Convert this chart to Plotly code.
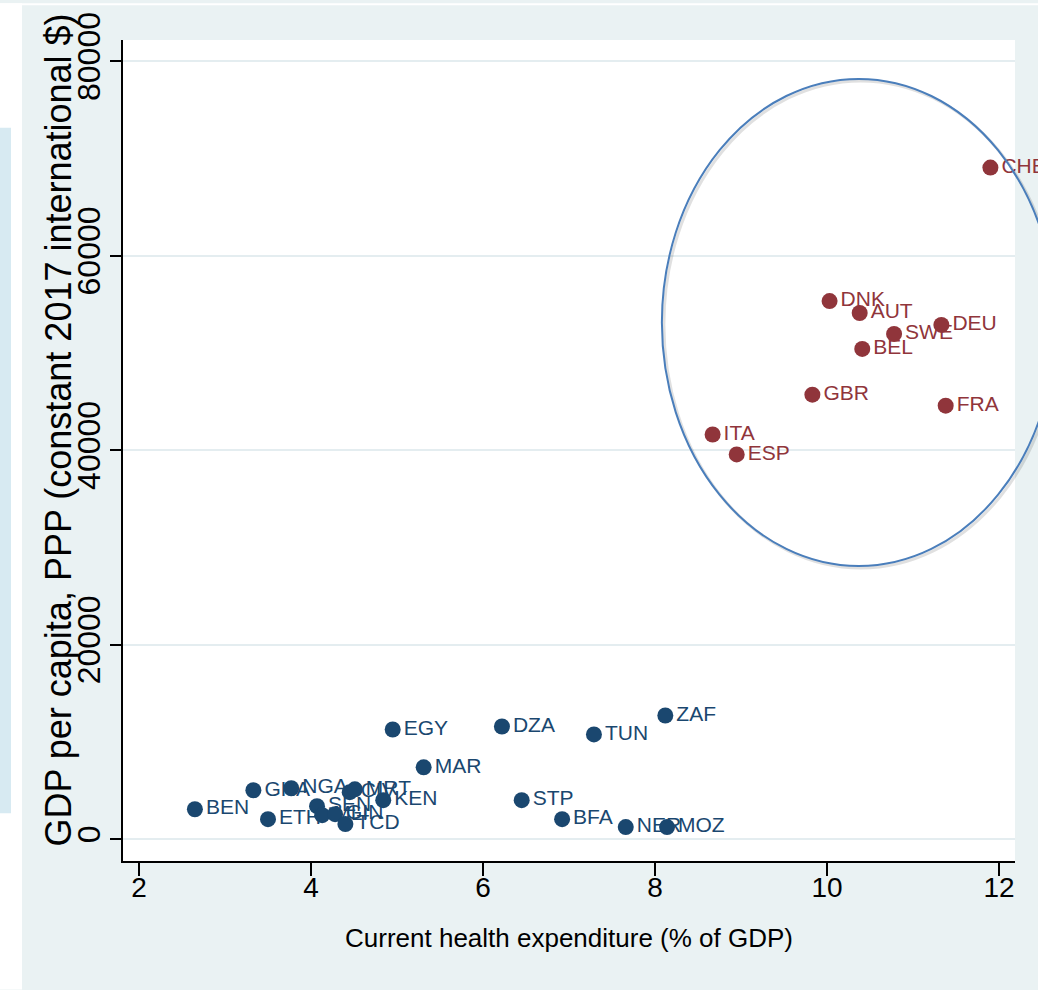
import plotly.graph_objects as go

# Low- and middle-income countries (navy)
low_codes = ["BEN", "GHA", "NGA", "ETH", "SEN", "MLI", "GIN", "TCD", "CIV", "MRT",
             "KEN", "EGY", "MAR", "DZA", "TUN", "ZAF", "STP", "BFA", "NER", "MOZ"]
low_health = [2.65, 3.33, 3.77, 3.50, 4.07, 4.13, 4.28, 4.40, 4.45, 4.51,
              4.84, 4.95, 5.31, 6.22, 7.29, 8.12, 6.45, 6.92, 7.66, 8.14]
low_gdp = [3070, 5020, 5230, 2050, 3380, 2460, 2560, 1540, 4820, 5120,
           4000, 11270, 7380, 11580, 10760, 12710, 4000, 2050, 1230, 1230]

# High-income European countries (maroon)
high_codes = ["CHE", "DNK", "AUT", "SWE", "DEU", "BEL", "GBR", "FRA", "ITA", "ESP"]
high_health = [11.90, 10.03, 10.38, 10.78, 11.33, 10.41, 9.83, 11.38, 8.67, 8.95]
high_gdp = [69070, 55340, 54110, 51960, 52880, 50420, 45710, 44580, 41610, 39560]

x_ticks = [2, 4, 6, 8, 10, 12]
y_ticks = [0, 20000, 40000, 60000, 80000]

# Ellipse highlighting the high-income group (data units)
ell_x0, ell_x1 = 8.08, 12.66
ell_y0, ell_y1 = 28080, 78190

X_RANGE = [1.814, 12.186]
Y_RANGE = [-2255, 82190]

NAVY = "#1a476f"
MAROON = "#90353b"
BG = "#eaf2f3"
FONT = "Liberation Sans, Arial, sans-serif"


def to_paper_x(v):
    return (v - X_RANGE[0]) / (X_RANGE[1] - X_RANGE[0])


def to_paper_y(v):
    return (v - Y_RANGE[0]) / (Y_RANGE[1] - Y_RANGE[0])


fig = go.Figure()

fig.add_trace(go.Scatter(
    x=low_health, y=low_gdp, text=low_codes, mode="markers+text",
    textposition="middle right", cliponaxis=False,
    marker=dict(color=NAVY, size=16),
    textfont=dict(color=NAVY, size=21, family=FONT),
    showlegend=False, hoverinfo="skip",
))
fig.add_trace(go.Scatter(
    x=high_health, y=high_gdp, text=high_codes, mode="markers+text",
    textposition="middle right", cliponaxis=False,
    marker=dict(color=MAROON, size=16),
    textfont=dict(color=MAROON, size=21, family=FONT),
    showlegend=False, hoverinfo="skip",
))

W, H = 1038, 990
ML, MR, MT, MB = 123, 23, 37, 129
pw, ph = W - ML - MR, H - MT - MB


def px_x(p):
    return (p - ML) / pw


def px_y(p):
    return (H - MB - p) / ph


shapes = [
    # white margin on the far left and the pale blue side strip
    dict(type="rect", xref="paper", yref="paper", layer="below",
         x0=px_x(0), x1=px_x(22), y0=px_y(990), y1=px_y(0),
         fillcolor="white", line=dict(width=0)),
    dict(type="rect", xref="paper", yref="paper", layer="below",
         x0=px_x(0), x1=px_x(11), y0=px_y(813), y1=px_y(125),
         fillcolor="#d7eaf2", line=dict(width=0)),
    dict(type="rect", xref="paper", yref="paper", layer="below",
         x0=px_x(0), x1=px_x(1038), y0=px_y(2), y1=px_y(0),
         fillcolor="white", line=dict(width=0)),
    # soft shadow of the ellipse
    dict(type="circle", xref="paper", yref="paper", layer="above",
         x0=to_paper_x(ell_x0) + 2 / pw, x1=to_paper_x(ell_x1) + 2 / pw,
         y0=to_paper_y(ell_y0) - 2 / ph, y1=to_paper_y(ell_y1) - 2 / ph,
         line=dict(color="rgba(0,0,0,0.12)", width=3)),
    dict(type="circle", xref="paper", yref="paper", layer="above",
         x0=to_paper_x(ell_x0), x1=to_paper_x(ell_x1),
         y0=to_paper_y(ell_y0), y1=to_paper_y(ell_y1),
         line=dict(color="#4a7ebb", width=2)),
]

annotations = [
    dict(text="Current health expenditure (% of GDP)", xref="paper", yref="paper",
         x=px_x(569), y=px_y(938), xanchor="center", yanchor="middle",
         showarrow=False, font=dict(family=FONT, size=26, color="black")),
    dict(text="GDP per capita, PPP (constant 2017 international $)",
         xref="paper", yref="paper", textangle=-90,
         x=px_x(59), y=px_y(429), xanchor="center", yanchor="middle",
         showarrow=False, font=dict(family=FONT, size=36, color="black")),
]

fig.update_layout(
    width=W, height=H,
    margin=dict(l=ML, r=MR, t=MT, b=MB, pad=0),
    paper_bgcolor=BG, plot_bgcolor="white",
    shapes=shapes, annotations=annotations,
    xaxis=dict(
        range=X_RANGE, tickvals=x_ticks, ticktext=[str(v) for v in x_ticks],
        showgrid=False, zeroline=False,
        showline=True, linecolor="black", linewidth=1.5,
        ticks="outside", ticklen=13, tickwidth=1.5, tickcolor="black",
        ticklabelstandoff=-12,
        tickfont=dict(family=FONT, size=28, color="black"),
    ),
    yaxis=dict(
        range=Y_RANGE, tickvals=y_ticks, ticktext=[str(v) for v in y_ticks],
        showgrid=True, gridcolor="#e4edf0", gridwidth=2, zeroline=False,
        showline=True, linecolor="black", linewidth=1.5,
        ticks="outside", ticklen=11, tickwidth=1.5, tickcolor="black",
        tickangle=-90, ticklabelstandoff=-3,
        tickfont=dict(family=FONT, size=32, color="black"),
    ),
)

fig.write_html("out.html")
